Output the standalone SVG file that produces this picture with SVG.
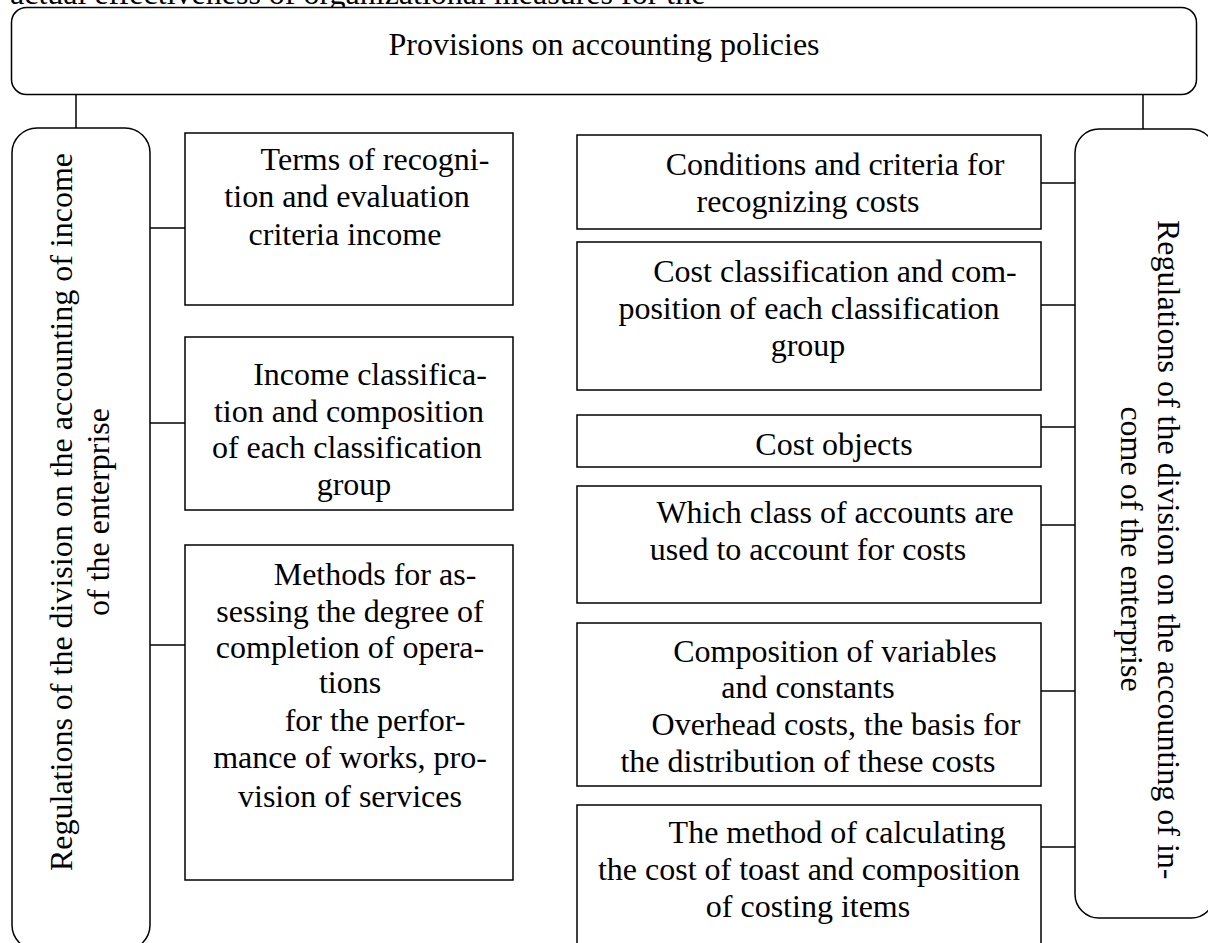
<svg xmlns="http://www.w3.org/2000/svg" width="1208" height="943" viewBox="0 0 1208 943">
  <style>
    .box { fill: #fff; stroke: #000; stroke-width: 1.5; }
    .wire { fill: none; stroke: #000; stroke-width: 1.5; }
    .t { font-family: "Liberation Serif", "Times New Roman", serif; font-size: 32px; fill: #000; }
    .c { text-anchor: middle; }
  </style>
  <rect width="1208" height="943" fill="#fff"/>

  <!-- running text above the chart, cut at the page edge -->
  <text class="t" x="10" y="4" font-size="27">actual effectiveness of organizational measures for the</text>

  <!-- connectors -->
  <g id="connectors" class="wire">
    <line x1="76" y1="94" x2="76" y2="135"/>
    <line x1="1143" y1="94" x2="1143" y2="135"/>
    <line x1="150" y1="228" x2="185" y2="228"/>
    <line x1="150" y1="423" x2="185" y2="423"/>
    <line x1="150" y1="645" x2="185" y2="645"/>
    <line x1="1041" y1="183" x2="1075" y2="183"/>
    <line x1="1041" y1="305" x2="1075" y2="305"/>
    <line x1="1041" y1="427" x2="1075" y2="427"/>
    <line x1="1041" y1="525" x2="1075" y2="525"/>
    <line x1="1041" y1="691" x2="1075" y2="691"/>
    <line x1="1041" y1="847" x2="1075" y2="847"/>
  </g>

  <g id="provisions">
    <rect class="box" x="11.5" y="7.5" width="1185" height="87" rx="15"/>
    <text class="t c" x="604" y="55">Provisions on accounting policies</text>
  </g>

  <g id="income-regulations">
    <rect class="box" x="12" y="128" width="138" height="822" rx="25"/>
    <text class="t c" transform="translate(72 512) rotate(-90)">Regulations of the division on the accounting of income</text>
    <text class="t c" transform="translate(109 512) rotate(-90)">of the enterprise</text>
  </g>

  <g id="cost-regulations">
    <rect class="box" x="1075" y="129" width="140" height="789" rx="24"/>
    <text class="t" transform="translate(1158 220) rotate(90)">Regulations of the division on the accounting of in-</text>
    <text class="t c" transform="translate(1121 549) rotate(90)">come of the enterprise</text>
  </g>

  <g id="income-recognition">
    <rect class="box" x="185" y="133" width="328" height="172"/>
    <text class="t c" x="375" y="170">Terms of recogni-</text>
    <text class="t c" x="347" y="207">tion and evaluation</text>
    <text class="t c" x="345" y="245">criteria income</text>
  </g>

  <g id="income-classification">
    <rect class="box" x="185" y="337" width="328" height="173"/>
    <text class="t c" x="370" y="385">Income classifica-</text>
    <text class="t c" x="349" y="422">tion and composition</text>
    <text class="t c" x="347" y="458">of each classification</text>
    <text class="t c" x="354" y="495">group</text>
  </g>

  <g id="completion-methods">
    <rect class="box" x="185" y="545" width="328" height="335"/>
    <text class="t c" x="375" y="585">Methods for as-</text>
    <text class="t c" x="350" y="622">sessing the degree of</text>
    <text class="t c" x="350" y="658">completion of opera-</text>
    <text class="t c" x="350" y="693">tions</text>
    <text class="t c" x="375" y="731">for the perfor-</text>
    <text class="t c" x="350" y="768">mance of works, pro-</text>
    <text class="t c" x="350" y="807">vision of services</text>
  </g>

  <g id="cost-recognition">
    <rect class="box" x="577" y="135" width="464" height="94"/>
    <text class="t c" x="835" y="175">Conditions and criteria for</text>
    <text class="t c" x="808" y="212">recognizing costs</text>
  </g>

  <g id="cost-classification">
    <rect class="box" x="577" y="242" width="464" height="148"/>
    <text class="t c" x="835" y="282">Cost classification and com-</text>
    <text class="t c" x="809" y="319">position of each classification</text>
    <text class="t c" x="808" y="356">group</text>
  </g>

  <g id="cost-objects">
    <rect class="box" x="577" y="415" width="464" height="52"/>
    <text class="t c" x="834" y="455">Cost objects</text>
  </g>

  <g id="cost-accounts">
    <rect class="box" x="577" y="486" width="464" height="117"/>
    <text class="t c" x="835" y="523">Which class of accounts are</text>
    <text class="t c" x="808" y="560">used to account for costs</text>
  </g>

  <g id="cost-composition">
    <rect class="box" x="577" y="623" width="464" height="163"/>
    <text class="t c" x="835" y="662">Composition of variables</text>
    <text class="t c" x="808" y="698">and constants</text>
    <text class="t c" x="836" y="735">Overhead costs, the basis for</text>
    <text class="t c" x="808" y="772">the distribution of these costs</text>
  </g>

  <g id="costing-method">
    <rect class="box" x="577" y="805" width="464" height="150"/>
    <text class="t c" x="837" y="843">The method of calculating</text>
    <text class="t c" x="809" y="880">the cost of toast and composition</text>
    <text class="t c" x="808" y="917">of costing items</text>
  </g>
</svg>
